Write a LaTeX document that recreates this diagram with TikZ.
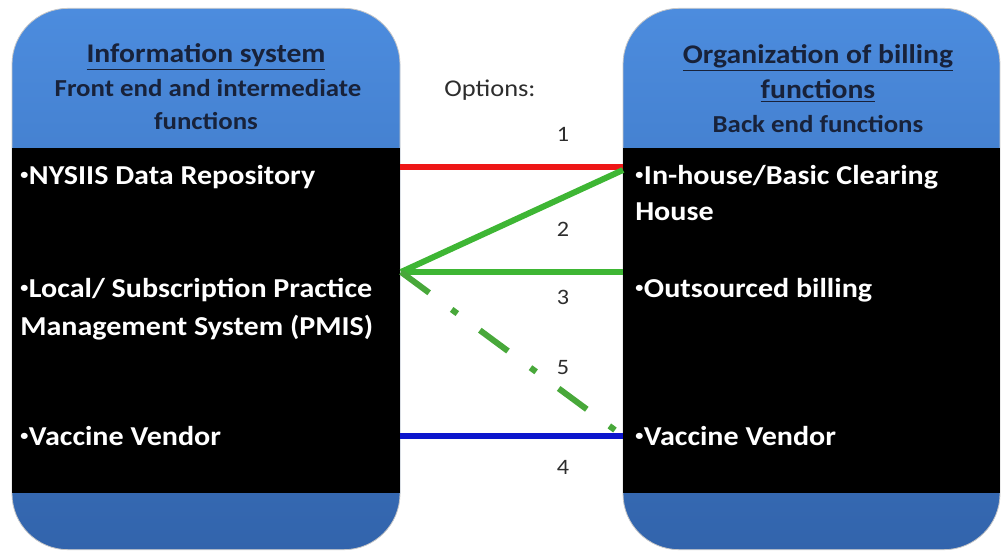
\documentclass[tikz,border=0pt]{standalone}
\usepackage{fontspec}
\setmainfont{Carlito}[FakeStretch=1.1]
\usetikzlibrary{calc}
\definecolor{boxtop}{RGB}{76,140,222}
\definecolor{boxbot}{RGB}{50,100,172}
\definecolor{headtext}{RGB}{24,34,58}
\definecolor{optred}{RGB}{238,22,22}
\definecolor{optgreen}{RGB}{62,182,52}
\definecolor{optdash}{RGB}{72,168,58}
\definecolor{optblue}{RGB}{12,22,205}
\definecolor{labelgray}{RGB}{45,45,45}
% small raised bullet used in the item lists
\newcommand{\itembul}{{\fontsize{11}{11}\selectfont\raisebox{3.6pt}{•}}\kern0.5pt}
\begin{document}
\begin{tikzpicture}[x=0.75pt,y=-0.75pt,
  panel/.style={rounded corners=42pt, top color=boxtop, bottom color=boxbot,
    draw=black!22, line width=0.6pt, inner sep=0pt},
  band/.style={fill=black},
  headline/.style={anchor=base, text=headtext, font=\bfseries\fontsize{18.3}{22}\selectfont, inner sep=0pt},
  headtitle/.style={headline, font=\bfseries\fontsize{20.2}{24}\selectfont},
  item/.style={anchor=base west, text=white, font=\bfseries\fontsize{20.5}{24}\selectfont, inner sep=0pt},
  optnum/.style={anchor=center, text=labelgray, font=\fontsize{16.5}{19}\selectfont, inner sep=0pt},
  conn/.style={line width=4.5pt},
]
\useasboundingbox (0,0) rectangle (1002,556);

% panels
\node[panel, minimum width=291pt, minimum height=406pt] (leftpanel) at (206,279) {};
\node[panel, minimum width=282.75pt, minimum height=406pt] (rightpanel) at (811.5,279) {};
\fill[band] (12.4,148) rectangle (399.6,493);
\fill[band] (623.4,148) rectangle (999.6,493);

% left header
\node[headtitle] (lh1) at (206,63) {\underline{Information system}};
\node[headline] (lh2) at (208,97) {Front end and intermediate};
\node[headline] (lh3) at (206,130) {functions};

% right header
\node[headtitle] (rh1) at (818,64) {\underline{Organization of billing}};
\node[headtitle] (rh2) at (818,99) {\underline{functions}};
\node[headline] (rh3) at (818,133) {Back end functions};

% left items
\node[item] (li1) at (20,184) {\itembul NYSIIS Data Repository};
\node[item] (li2) at (20,297) {\itembul Local/ Subscription Practice};
\node[item] (li2b) at (20,335) {Management System (PMIS)};
\node[item] (li3) at (20,445) {\itembul Vaccine Vendor};

% right items
\node[item] (ri1) at (635,184) {\itembul In-house/Basic Clearing};
\node[item] (ri1b) at (635,220) {House};
\node[item] (ri2) at (635,297) {\itembul Outsourced billing};
\node[item] (ri3) at (635,445) {\itembul Vaccine Vendor};

% option labels
\node[anchor=center, text=labelgray, font=\fontsize{18}{21}\selectfont, inner sep=0pt] (opts) at (490,90) {Options:};
\node[optnum] (n1) at (563,134) {1};
\node[optnum] (n2) at (563,229) {2};
\node[optnum] (n3) at (563,297) {3};
\node[optnum] (n5) at (563,368) {5};
\node[optnum] (n4) at (563,467) {4};

% connector end points on the panel edges
\coordinate (l1) at (400,167);
\coordinate (l2) at (401,272);
\coordinate (l3) at (400,436);
\coordinate (r1) at (623,167);
\coordinate (r1g) at (623,170);
\coordinate (r2) at (623,272);
\coordinate (r3) at (623,436);

% options
\draw[conn, optred] (l1) -- (r1);
\draw[conn, optgreen] (r1g) -- (l2);
\draw[conn, optgreen] (r2) -- (l2);
\draw[conn, optdash, dash pattern=on 26.25pt off 21pt on 5.25pt off 21pt] (l2) -- (r3);
\draw[conn, optblue] (l3) -- (r3);
\end{tikzpicture}
\end{document}
